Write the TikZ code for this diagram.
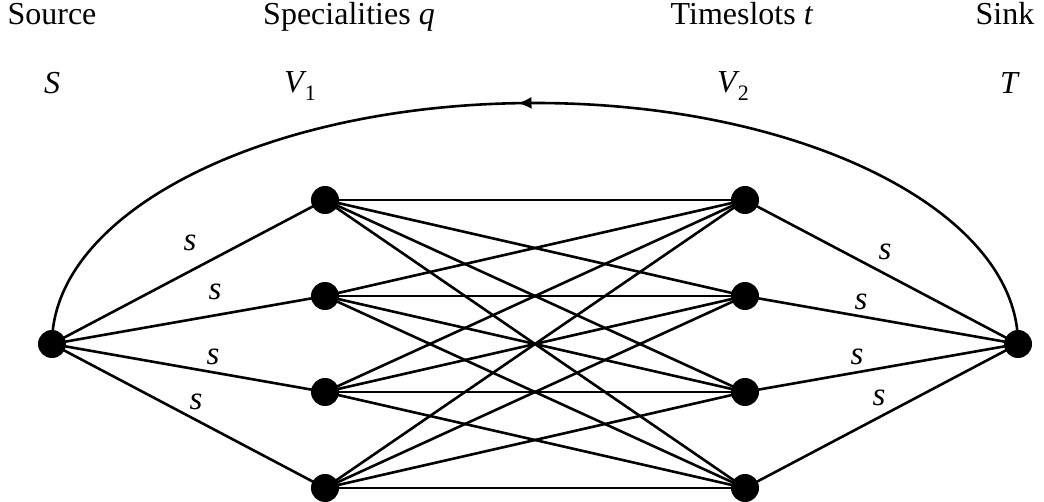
\documentclass[tikz,border=0pt]{standalone}
\usepackage{fontspec}
\setmainfont{Liberation Serif}
\usetikzlibrary{decorations.markings,arrows.meta}
\begin{document}
\begin{tikzpicture}[x=0.5pt,y=-0.5pt,
  dot/.style={circle,fill=black,inner sep=0pt,minimum size=14pt},
  edge/.style={line width=1.3pt,line cap=round},
  txt/.style={font=\fontsize{16}{19}\selectfont,inner sep=0pt,anchor=base},
  slbl/.style={font=\fontsize{16.5}{19}\selectfont\itshape,inner sep=0pt}]
\useasboundingbox (0,0) rectangle (1044,502);
% headings
\node[txt] (hsrc) at (52,25) {Source};
\node[txt] (hspec) at (349,25) {Specialities \textit{q}};
\node[txt] (htime) at (742,25) {Timeslots \textit{t}};
\node[txt] (hsink) at (1005,25) {Sink};
\node[txt] (lS) at (52,94) {\textit{S}};
\node[txt] (lV1) at (300,93) {\textit{V}\kern-1pt\raisebox{-0.22em}{\fontsize{11}{13}\selectfont 1}};
\node[txt] (lV2) at (733,93) {\textit{V}\kern-1pt\raisebox{-0.22em}{\fontsize{11}{13}\selectfont 2}};
\node[txt] (lT) at (1010,94) {\textit{T}};
% nodes
\node[dot] (src) at (52,344) {};
\node[dot] (snk) at (1018,344) {};
\foreach \i/\y in {1/200,2/296,3/392,4/488}{
  \node[dot] (a\i) at (325,\y) {};
  \node[dot] (b\i) at (745,\y) {};
}
\coordinate (top) at (535,103);
% edges
\foreach \i in {1,...,4}{
  \draw[edge] (src.center) -- (a\i.center);
  \draw[edge] (b\i.center) -- (snk.center);
  \foreach \j in {1,...,4}{
    \draw[edge] (a\i.center) -- (b\j.center);
  }
}
% return arc
\draw[edge,decoration={markings,mark=at position 0.515 with {\arrow{Latex[length=7pt,width=6pt]}}},postaction={decorate}]
  (snk.center) .. controls +(0,-133) and +(267,0) .. (top)
  .. controls +(-267,0) and +(0,-133) .. (src.center);
% labels
\node[slbl] (s1) at (190,243) {s};
\node[slbl] (s2) at (215,292) {s};
\node[slbl] (s3) at (213,357) {s};
\node[slbl] (s4) at (196,402) {s};
\node[slbl] (s5) at (885,252) {s};
\node[slbl] (s6) at (861,302) {s};
\node[slbl] (s7) at (857,357) {s};
\node[slbl] (s8) at (879,398) {s};
\end{tikzpicture}
\end{document}
